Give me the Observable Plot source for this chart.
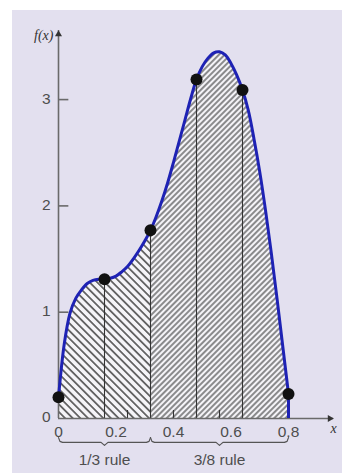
<!DOCTYPE html>
<html>
<head>
<meta charset="utf-8">
<script src="https://cdn.jsdelivr.net/npm/d3@7"></script>
<script src="https://cdn.jsdelivr.net/npm/@observablehq/plot@0.6"></script>
<style>
  html, body { margin: 0; padding: 0; background: #ffffff; }
  #panel { position: absolute; left: 12px; top: 10px; width: 330px; height: 463px; background: #e3e0ef; overflow: hidden; }
  #panel svg { overflow: visible; }
</style>
</head>
<body>
<div id="panel"></div>
<script>
// ---- data ----
const curveX = [0.00,0.02,0.04,0.06,0.08,0.10,0.12,0.14,0.16,0.18,0.20,0.22,0.24,0.26,0.28,0.30,0.32,0.34,0.36,0.38,0.40,0.42,0.44,0.46,0.48,0.50,0.52,0.54,0.56,0.58,0.60,0.62,0.64,0.66,0.68,0.70,0.72,0.74,0.76,0.78,0.80];
const curveY = [0.20,0.70,0.99,1.13,1.21,1.27,1.30,1.31,1.31,1.32,1.34,1.38,1.43,1.50,1.58,1.67,1.77,1.90,2.05,2.22,2.41,2.61,2.81,3.01,3.19,3.31,3.39,3.44,3.45,3.42,3.34,3.23,3.09,2.90,2.63,2.32,1.96,1.56,1.13,0.68,0.23];
const nodeX = [0, 0.16, 0.32, 0.48, 0.64, 0.80];
const nodeY = [0.20, 1.31, 1.77, 3.19, 3.09, 0.23];
const ruleSplits = [0, 0.32, 0.80];
const ruleLabels = ["1/3 rule", "3/8 rule"];
const xTicks = [0, 0.2, 0.4, 0.6, 0.8];
const yTicks = [0, 1, 2, 3];
const xInnerTicks = [0.24, 0.40, 0.56];
const xAxisEnd = 0.957;
const yAxisEnd = 3.65;

// ---- tables ----
const curve = curveX.map((x, i) => ({x, y: curveY[i]}));
const nodes = nodeX.map((x, i) => ({x, y: nodeY[i]}));
const leftPart = curve.filter(d => d.x <= ruleSplits[1] + 1e-9);
const rightPart = curve.filter(d => d.x >= ruleSplits[1] - 1e-9);
const lastNode = nodes[nodes.length - 1];

const braceY = -0.225;
const braces = d3.pairs(ruleSplits).flatMap(([a, b], i) => {
  const m = (a + b) / 2;
  return [[a, 0.045], [a + 0.005, 0.01], [a + 0.014, 0], [m - 0.012, 0], [m, -0.028], [m + 0.012, 0],
          [b - 0.014, 0], [b - 0.005, 0.01], [b, 0.045]].map(([x, dy]) => ({x, y: braceY + dy, i}));
});
const braceText = d3.pairs(ruleSplits).map(([a, b], i) => ({x: (a + b) / 2, y: braceY, label: ruleLabels[i]}));

const axisColor = "#6a6a6a";
const textColor = "#4e4e4e";
const blue = "#1e22b4";
const fs = 15.5;

const svg = Plot.plot({
  width: 330,
  height: 463,
  marginLeft: 46,
  marginRight: 54,
  marginTop: 20,
  marginBottom: 55,
  x: {domain: [0, 0.8], axis: null},
  y: {domain: [0, yAxisEnd], axis: null},
  style: {background: "transparent", color: textColor, fontFamily: "Liberation Sans, Arial, sans-serif", fontSize: fs + "px", overflow: "visible"},
  marks: [
    Plot.areaY(leftPart, {x: "x", y: "y", fill: "url(#hatchL)", curve: "catmull-rom"}),
    Plot.areaY(rightPart, {x: "x", y: "y", fill: "url(#hatchR)", curve: "catmull-rom"}),
    Plot.ruleX(nodes.slice(1, -1), {x: "x", y1: 0, y2: "y", stroke: "#333", strokeWidth: 1.1}),
    Plot.ruleX(xInnerTicks, {y1: 0, y2: 0.075, stroke: "#333", strokeWidth: 1.1}),
    Plot.ruleY([0], {x1: 0, x2: xAxisEnd, stroke: axisColor, strokeWidth: 1.6}),
    Plot.ruleX([0], {y1: 0, y2: yAxisEnd, stroke: axisColor, strokeWidth: 1.6}),
    Plot.ruleY(yTicks.slice(1), {x1: 0, x2: 0.036, stroke: axisColor, strokeWidth: 1.6}),
    Plot.dot([{x: 0, y: yAxisEnd}], {x: "x", y: "y", symbol: "triangle", r: 2.6, fill: "#333", stroke: "none", dy: 3.8}),
    Plot.dot([{x: xAxisEnd, y: 0}], {x: "x", y: "y", symbol: "triangle", r: 2.6, fill: "#333", stroke: "none", rotate: 90, dx: -3.8}),
    Plot.line(curve, {x: "x", y: "y", stroke: blue, strokeWidth: 3, curve: "catmull-rom"}),
    Plot.ruleX([lastNode], {x: "x", y1: 0, y2: "y", stroke: blue, strokeWidth: 3}),
    Plot.dot(nodes, {x: "x", y: "y", r: 6, fill: "#111", stroke: "none"}),
    Plot.axisX(xTicks, {label: null, tickSize: 0, tickPadding: 7, tickFormat: d => String(d), fontSize: fs}),
    Plot.axisY(yTicks, {label: null, tickSize: 0, tickPadding: 8, tickFormat: d => String(d), fontSize: fs, dy: -1}),
    Plot.text([{x: 0, y: yAxisEnd}], {x: "x", y: "y", text: () => "f(x)", textAnchor: "end", dx: -5, dy: 5, fontFamily: "Liberation Serif, Times New Roman, serif", fontStyle: "italic", fontSize: 14, fill: "#333"}),
    Plot.text([{x: xAxisEnd, y: 0}], {x: "x", y: "y", text: () => "x", dx: 0, dy: 10, fontFamily: "Liberation Serif, Times New Roman, serif", fontStyle: "italic", fontSize: 14, fill: "#333"}),
    Plot.line(braces, {x: "x", y: "y", z: "i", stroke: "#555", strokeWidth: 1.2}),
    Plot.text(braceText, {x: "x", y: "y", text: "label", dy: 18, fontSize: fs, fill: textColor})
  ]
});

const defs = d3.select(svg).insert("defs", ":first-child");
function hatch(id, s, angle, w) {
  const p = defs.append("pattern")
    .attr("id", id)
    .attr("patternUnits", "userSpaceOnUse")
    .attr("width", s).attr("height", s)
    .attr("patternTransform", `rotate(${angle})`);
  p.append("rect").attr("width", s).attr("height", s).attr("fill", "#f5f4f8");
  p.append("line").attr("x1", s / 2).attr("y1", -1).attr("x2", s / 2).attr("y2", s + 1)
    .attr("stroke", "#2a2a2a").attr("stroke-width", w);
}
hatch("hatchL", 5.4, -45, 1.3);
hatch("hatchR", 4.0, 45, 1.05);

document.getElementById("panel").appendChild(svg);
</script>
</body>
</html>
